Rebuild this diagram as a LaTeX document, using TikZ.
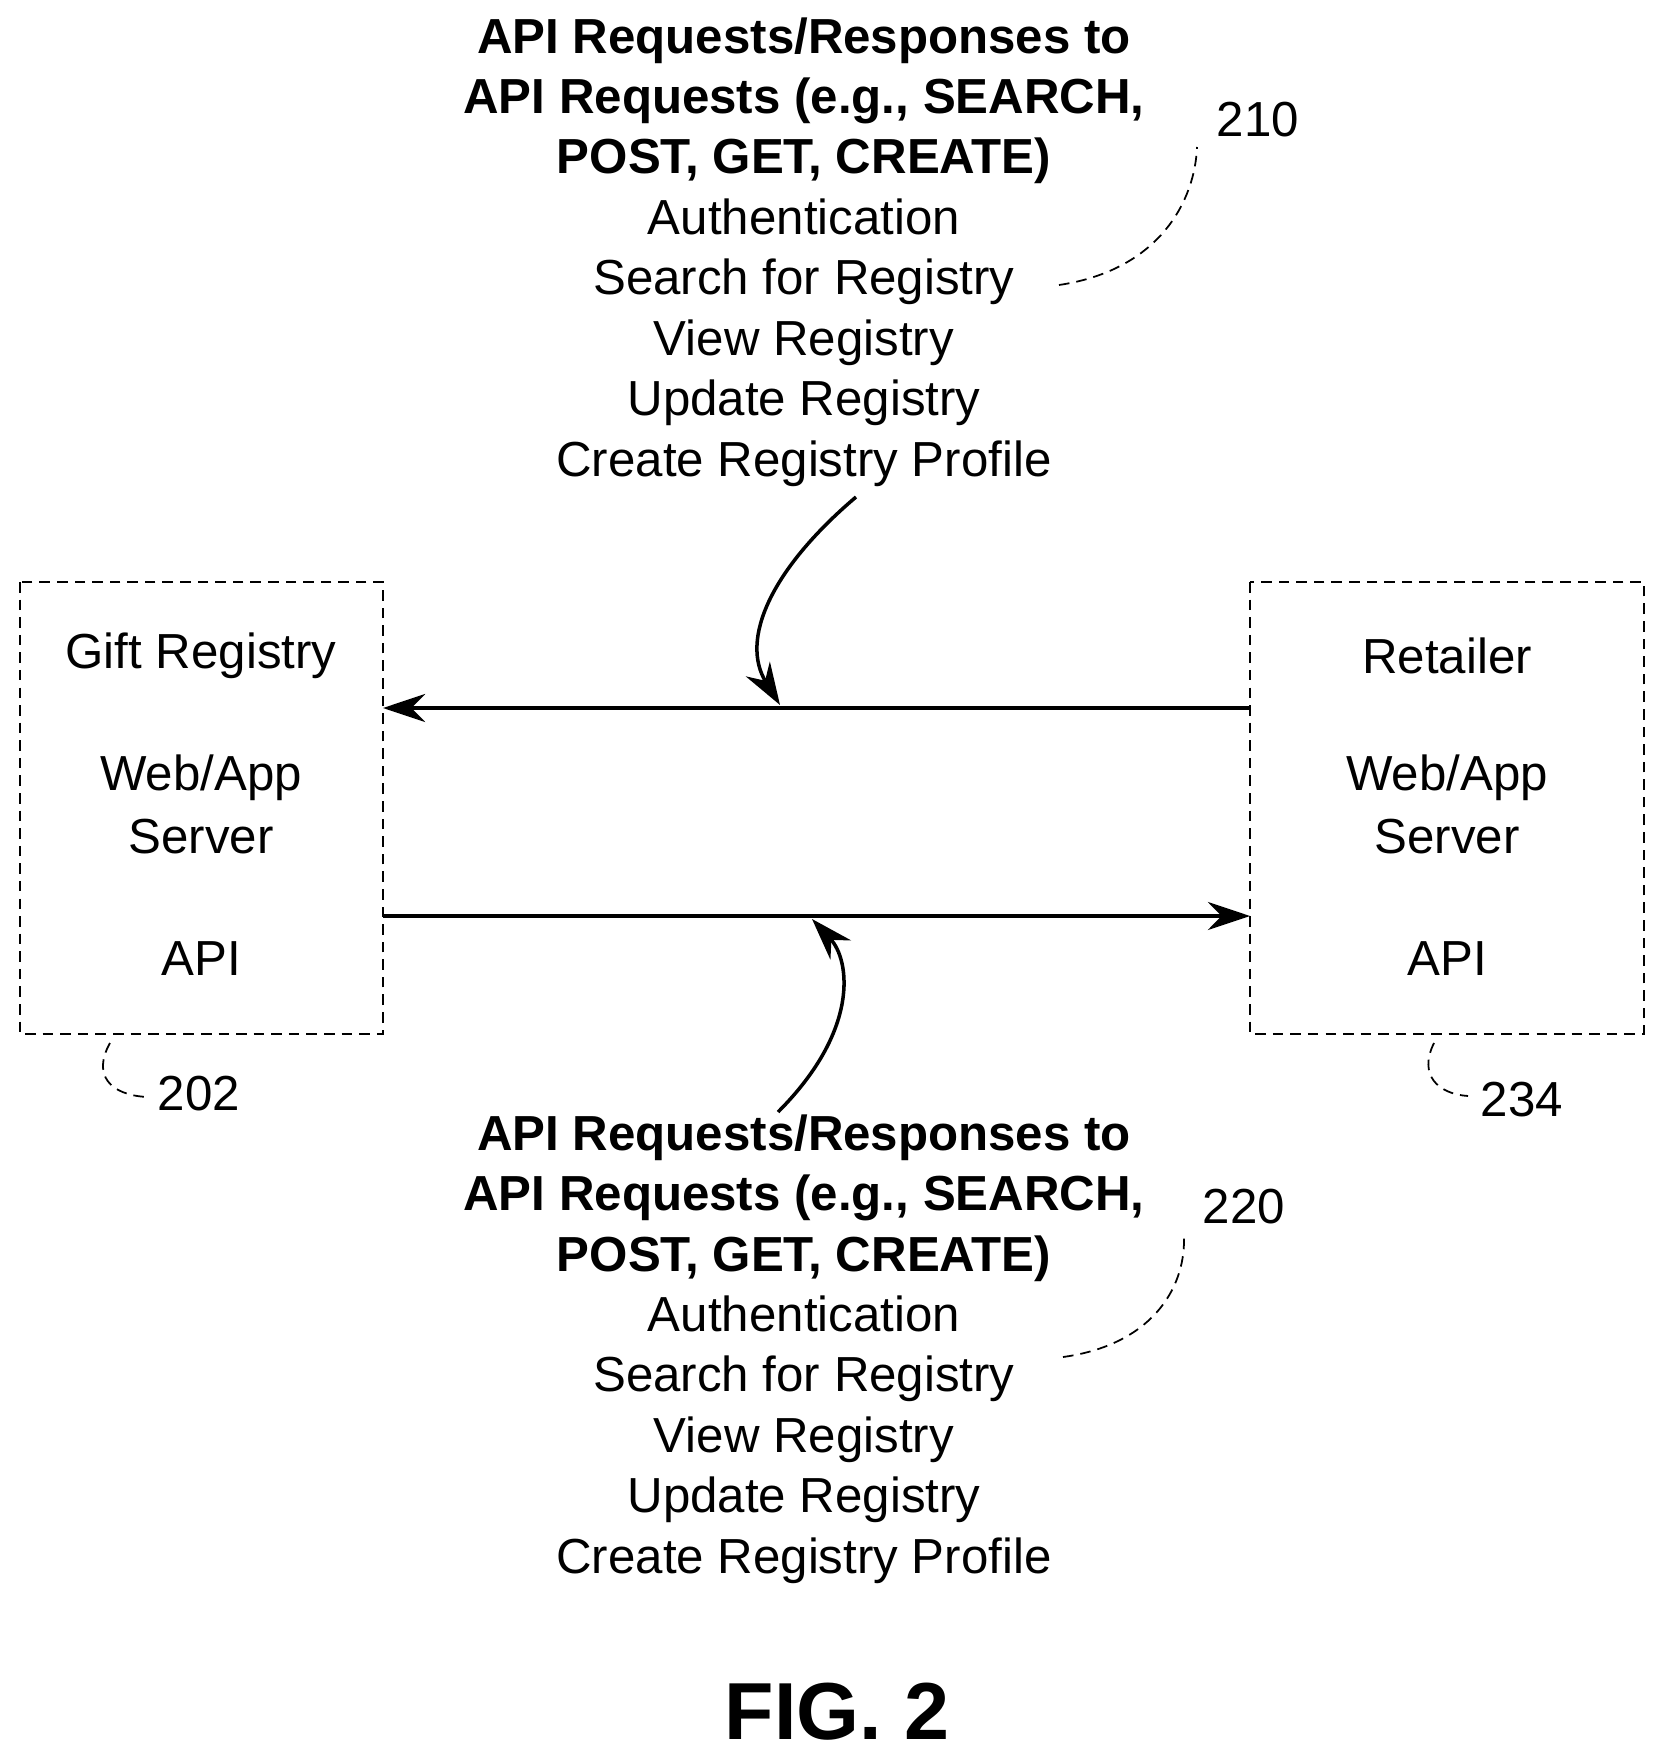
\documentclass[tikz,border=0pt]{standalone}
\usepackage{fontspec}
\setmainfont{Liberation Sans}
\usetikzlibrary{arrows.meta}
\begin{document}
\begin{tikzpicture}[x=0.01cm,y=-0.01cm,
  box/.style={draw,densely dashed,line width=0.5pt},
  txt/.style={font=\fontsize{14}{17}\selectfont},
  blk/.style={align=center,font=\fontsize{14}{17.2}\selectfont},
  arr/.style={line width=1pt,-{Stealth[length=12pt,width=8pt]}},
  lead/.style={densely dashed,line width=0.5pt}]
\useasboundingbox (0,0) rectangle (1662,1761);
\draw[box] (20,582) rectangle (383,1034);
\draw[box] (1250,582) rectangle (1644,1034);
\node[txt] (g1) at (201,656) {Gift Registry};
\node[txt] (g2) at (201,778) {Web/App};
\node[txt] (g3) at (201,837) {Server};
\node[txt] (g4) at (201,959) {API};
\node[txt] (r1) at (1447,656) {Retailer};
\node[txt] (r2) at (1447,778) {Web/App};
\node[txt] (r3) at (1447,837) {Server};
\node[txt] (r4) at (1447,959) {API};
\coordinate (lt) at (383,708); \coordinate (rt) at (1250,708);
\coordinate (lb) at (383,916); \coordinate (rb) at (1250,916);
\draw[arr] (rt) -- (lt);
\draw[arr] (lb) -- (rb);
\node[blk] (t) at (804,252) {\textbf{API Requests/Responses to}\\\textbf{API Requests (e.g., SEARCH,}\\\textbf{POST, GET, CREATE)}\\Authentication\\Search for Registry\\View Registry\\Update Registry\\Create Registry Profile};
\node[blk] (b) at (804,1349) {\textbf{API Requests/Responses to}\\\textbf{API Requests (e.g., SEARCH,}\\\textbf{POST, GET, CREATE)}\\Authentication\\Search for Registry\\View Registry\\Update Registry\\Create Registry Profile};
\coordinate (ta) at (856,497); \coordinate (th) at (780,705);
\draw[arr] (ta) .. controls (770,570) and (740,640) .. (th);
\coordinate (ba) at (778,1112); \coordinate (bh) at (812,919);
\draw[arr] (ba) .. controls (860,1030) and (850,960) .. (bh);
\node[txt] (n210) at (1258,120) {210};
\coordinate (d1) at (1059,285);
\draw[lead] (d1) .. controls (1160,270) and (1195,200) .. (1197,147);
\node[txt] (n220) at (1244,1207) {220};
\coordinate (d2) at (1063,1357);
\draw[lead] (d2) .. controls (1150,1345) and (1185,1290) .. (1184,1238);
\node[txt] (n202) at (199,1094) {202};
\coordinate (d3) at (110,1043);
\draw[lead] (d3) .. controls (92,1075) and (110,1095) .. (147,1097);
\node[txt] (n234) at (1522,1100) {234};
\coordinate (d4) at (1434,1043);
\draw[lead] (d4) .. controls (1418,1075) and (1438,1094) .. (1468,1096);
\node[font=\fontsize{23}{26}\selectfont\bfseries] (fig) at (837,1712) {FIG. 2};
\end{tikzpicture}
\end{document}
